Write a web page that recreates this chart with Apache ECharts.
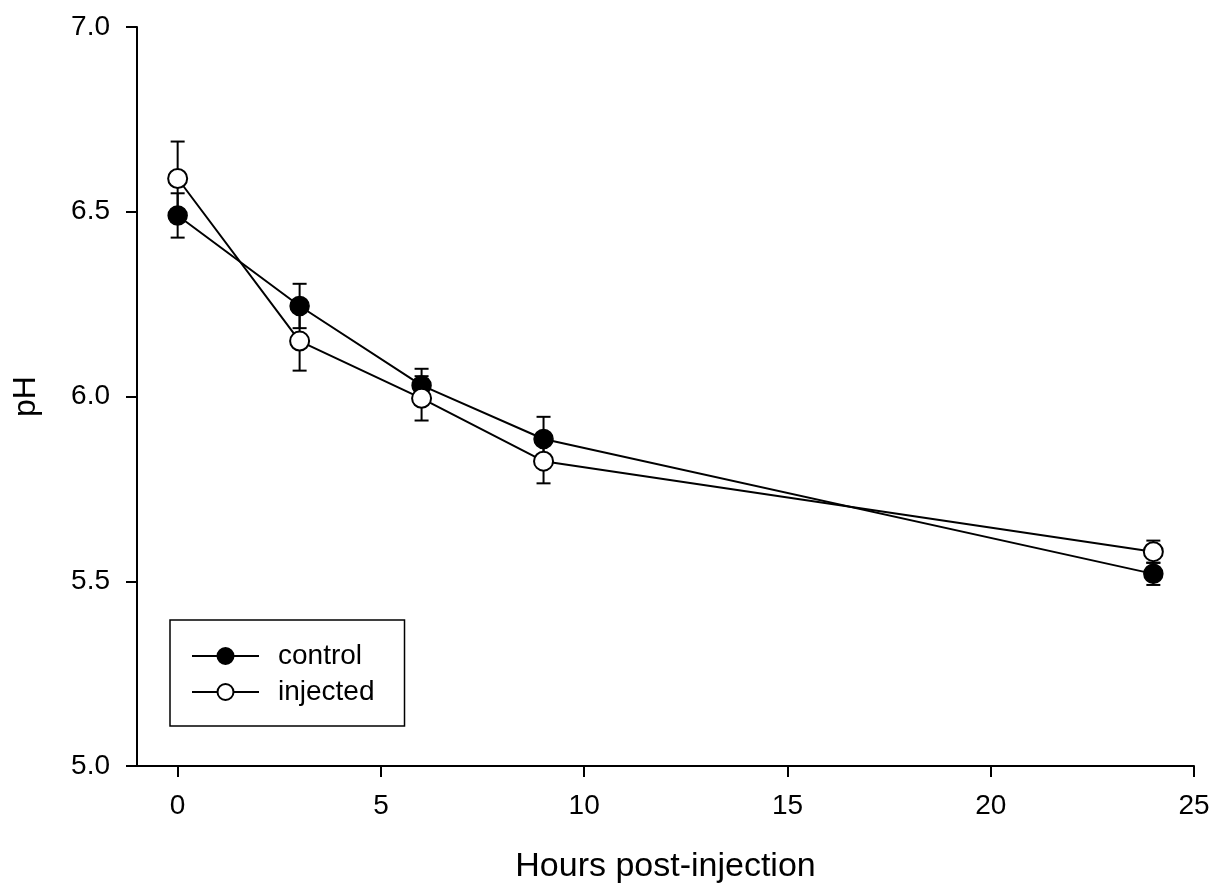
<!DOCTYPE html>
<html>
<head>
<meta charset="utf-8">
<script src="https://cdn.jsdelivr.net/npm/echarts@6/dist/echarts.min.js"></script>
<style>
  html, body { margin: 0; padding: 0; background: #fff; }
  #chart { width: 1222px; height: 895px; }
</style>
</head>
<body>
<div id="chart"></div>
<script>
// Sampling times (hours after injection)
const hours = [0, 3, 6, 9, 24];

// Mean pH and standard error per group
const controlMean = [6.49, 6.245, 6.03, 5.885, 5.52];
const controlErr  = [0.06, 0.06, 0.045, 0.06, 0.03];
const injectedMean = [6.59, 6.15, 5.995, 5.825, 5.58];
const injectedErr  = [0.10, 0.08, 0.06, 0.06, 0.03];

// Axis tick labels
const xTicks = [0, 5, 10, 15, 20, 25];
const yTicks = [5.0, 5.5, 6.0, 6.5, 7.0];

const FONT = 'Liberation Sans, Arial, sans-serif';

function pairs(xs, ys) { return xs.map((x, i) => [x, ys[i]]); }
function errRows(xs, m, e) { return xs.map((x, i) => [x, m[i] - e[i], m[i] + e[i]]); }

// Vertical error bar with caps
function renderErr(params, api) {
  const x = api.value(0);
  const lo = api.coord([x, api.value(1)]);
  const hi = api.coord([x, api.value(2)]);
  const cap = 7;
  const style = { stroke: '#000', lineWidth: 2, fill: null };
  return {
    type: 'group',
    children: [
      { type: 'line', shape: { x1: lo[0], y1: lo[1], x2: hi[0], y2: hi[1] }, style },
      { type: 'line', shape: { x1: lo[0] - cap, y1: lo[1], x2: lo[0] + cap, y2: lo[1] }, style },
      { type: 'line', shape: { x1: hi[0] - cap, y1: hi[1], x2: hi[0] + cap, y2: hi[1] }, style }
    ]
  };
}

const chart = echarts.init(document.getElementById('chart'), null, { renderer: 'canvas' });

chart.setOption({
  animation: false,
  backgroundColor: '#fff',
  textStyle: { fontFamily: FONT, color: '#000' },
  grid: { left: 137, right: 28, top: 27, bottom: 129, containLabel: false },
  xAxis: {
    type: 'value',
    min: -1,
    max: 25,
    name: 'Hours post-injection',
    nameLocation: 'middle',
    nameGap: 84,
    nameTextStyle: { fontSize: 34, color: '#000', fontFamily: FONT },
    axisLine: { show: true, onZero: false, lineStyle: { color: '#000', width: 2 } },
    axisTick: { show: true, inside: false, length: 11, customValues: xTicks, lineStyle: { color: '#000', width: 2 } },
    axisLabel: { customValues: xTicks, fontSize: 28, color: '#000', margin: 26, fontFamily: FONT },
    splitLine: { show: false }
  },
  yAxis: {
    type: 'value',
    min: 5.0,
    max: 7.0,
    interval: 0.5,
    name: 'pH',
    nameLocation: 'middle',
    nameGap: 95,
    nameRotate: 90,
    nameTextStyle: { fontSize: 32, color: '#000', fontFamily: FONT },
    axisLine: { show: true, onZero: false, lineStyle: { color: '#000', width: 2 } },
    axisTick: { show: true, inside: false, length: 11, lineStyle: { color: '#000', width: 2 } },
    axisLabel: {
      customValues: yTicks,
      fontSize: 28, color: '#000', margin: 27, fontFamily: FONT,
      formatter: v => v.toFixed(1)
    },
    splitLine: { show: false }
  },
  legend: {
    left: 170,
    top: 620,
    orient: 'vertical',
    padding: [22, 30, 20, 21],
    itemGap: 8,
    itemWidth: 67,
    itemHeight: 20,
    borderColor: '#000',
    borderWidth: 1.5,
    textStyle: { fontSize: 28, color: '#000', fontFamily: FONT, padding: [0, 0, 0, 14] },
    data: ['control', 'injected']
  },
  series: [
    {
      type: 'custom',
      name: 'control-err',
      renderItem: renderErr,
      data: errRows(hours, controlMean, controlErr),
      encode: { x: 0, y: [1, 2] },
      z: 1,
      silent: true
    },
    {
      type: 'custom',
      name: 'injected-err',
      renderItem: renderErr,
      data: errRows(hours, injectedMean, injectedErr),
      encode: { x: 0, y: [1, 2] },
      z: 1,
      silent: true
    },
    {
      type: 'line',
      name: 'control',
      data: pairs(hours, controlMean),
      symbol: 'circle',
      symbolSize: 19,
      showAllSymbol: true,
      lineStyle: { color: '#000', width: 2 },
      itemStyle: { color: '#000', borderColor: '#000', borderWidth: 1.5 },
      z: 3
    },
    {
      type: 'line',
      name: 'injected',
      data: pairs(hours, injectedMean),
      symbol: 'circle',
      symbolSize: 19,
      showAllSymbol: true,
      lineStyle: { color: '#000', width: 2 },
      itemStyle: { color: '#fff', borderColor: '#000', borderWidth: 2 },
      z: 4
    }
  ]
});
</script>
</body>
</html>
